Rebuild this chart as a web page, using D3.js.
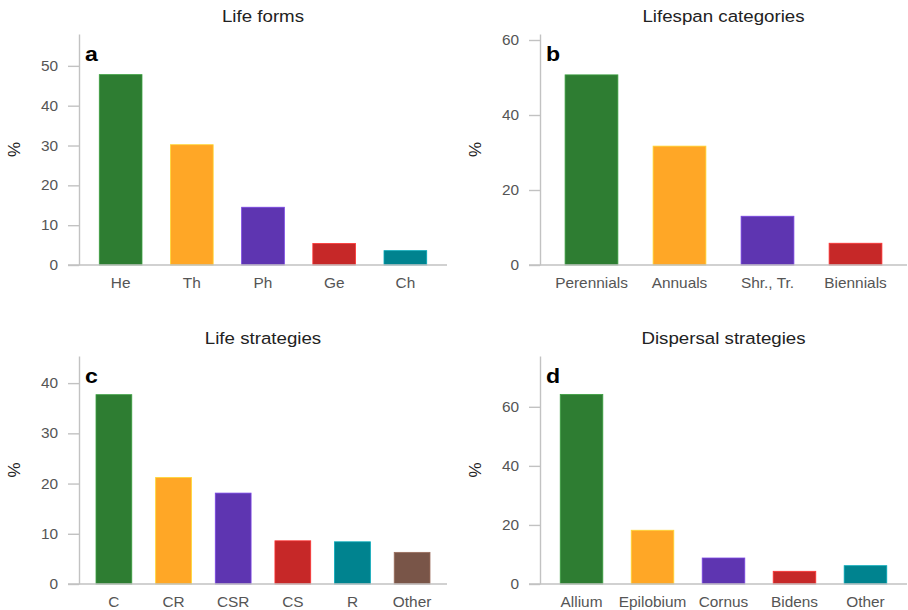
<!DOCTYPE html>
<html>
<head>
<meta charset="utf-8">
<script src="https://cdn.jsdelivr.net/npm/d3@7"></script>
<style>
  body { margin: 0; background: #fff; }
  svg { display: block; font-family: "Liberation Sans", Arial, sans-serif; }
</style>
</head>
<body>
<div class="chart-container"></div>
<script>
// values (percent of species)
const lifeFormCats = ['He', 'Th', 'Ph', 'Ge', 'Ch'];
const lifeFormVals = [47.8, 30.2, 14.5, 5.4, 3.6];
const lifeFormTicks = [0, 10, 20, 30, 40, 50];

const lifespanCats = ['Perennials', 'Annuals', 'Shr., Tr.', 'Biennials'];
const lifespanVals = [50.7, 31.7, 13.0, 5.8];
const lifespanTicks = [0, 20, 40, 60];

const strategyCats = ['C', 'CR', 'CSR', 'CS', 'R', 'Other'];
const strategyVals = [37.7, 21.2, 18.1, 8.6, 8.4, 6.3];
const strategyTicks = [0, 10, 20, 30, 40];

const dispersalCats = ['Allium', 'Epilobium', 'Cornus', 'Bidens', 'Other'];
const dispersalVals = [64.2, 18.2, 8.8, 4.3, 6.2];
const dispersalTicks = [0, 20, 40, 60];

// top of each y axis (a, b, c, d)
const yMaxes = [58, 61.6, 45.4, 77.2];

const colors = ['#2e7d32', '#ffa726', '#5e35b1', '#c62828', '#00838f', '#795548'];

// text in the reference is a bit wider than plain Arial
const sx = 1.1;

const svg = d3.select('.chart-container')
  .append('svg')
  .attr('width', 908)
  .attr('height', 610);

// draw one bar panel
function drawPanel(p) {
  const g = svg.append('g').attr('class', 'panel');

  const x = d3.scaleBand()
    .domain(p.cats)
    .range([p.x0, p.x1])
    .paddingInner(0.4)
    .paddingOuter(0.285);

  const y = d3.scaleLinear()
    .domain([0, p.yMax])
    .range([p.yBase, p.yTop]);

  // bars
  g.selectAll('.bar')
    .data(p.cats)
    .join('rect')
    .attr('class', 'bar')
    .attr('x', d => x(d))
    .attr('width', x.bandwidth())
    .attr('y', (d, i) => y(p.vals[i]))
    .attr('height', (d, i) => p.yBase - y(p.vals[i]))
    .style('fill', (d, i) => colors[i])
    .style('stroke', (d, i) => d3.color(colors[i]).brighter(0.7))
    .style('stroke-width', 0.8);

  // y axis
  const yAxis = d3.axisLeft(y)
    .tickValues(p.ticks)
    .tickSize(11)
    .tickSizeOuter(0)
    .tickPadding(10);

  const yAxisDraw = g.append('g')
    .attr('class', 'y axis')
    .attr('transform', `translate(${p.x0},0)`)
    .call(yAxis);

  yAxisDraw.selectAll('path, line')
    .attr('stroke', '#c2c2c2')
    .attr('stroke-width', 1.4);

  yAxisDraw.selectAll('text')
    .attr('x', null)
    .attr('transform', `translate(-21,0) scale(${sx},1)`)
    .attr('fill', '#555')
    .style('font-size', '14px');

  // x axis (labels only, baseline drawn below)
  const xAxis = d3.axisBottom(x)
    .tickSize(0)
    .tickSizeOuter(0)
    .tickPadding(0);

  const xAxisDraw = g.append('g')
    .attr('class', 'x axis')
    .attr('transform', `translate(0,${p.yBase})`)
    .call(xAxis);

  xAxisDraw.select('.domain').remove();
  xAxisDraw.selectAll('text')
    .attr('y', 23)
    .attr('dy', null)
    .attr('x', 0)
    .attr('transform', `scale(${sx},1)`)
    .attr('fill', '#555')
    .style('font-size', '14px');

  g.append('line')
    .attr('x1', p.x0 - 11)
    .attr('x2', p.x1)
    .attr('y1', p.yBase)
    .attr('y2', p.yBase)
    .attr('stroke', '#c2c2c2')
    .attr('stroke-width', 1.4);

  // title
  g.append('text')
    .attr('transform', `translate(${(p.x0 + p.x1) / 2},${p.yTop - 12}) scale(${sx},1)`)
    .attr('text-anchor', 'middle')
    .attr('fill', '#222')
    .style('font-size', '17px')
    .text(p.title);

  // panel letter
  g.append('text')
    .attr('transform', `translate(${p.x0 + 6},${p.yTop + 27}) scale(${sx},1)`)
    .attr('fill', '#000')
    .style('font-size', '21px')
    .style('font-weight', 'bold')
    .text(p.letter);

  // y label
  g.append('text')
    .attr('transform', `translate(${p.x0 - 59},${(p.yTop + p.yBase) / 2}) rotate(-90)`)
    .attr('text-anchor', 'middle')
    .attr('fill', '#222')
    .style('font-size', '17px')
    .text('%');
}

const leftCol = {x0: 79, x1: 447};
const rightCol = {x0: 540, x1: 907};
const topRow = {yTop: 34, yBase: 265};
const bottomRow = {yTop: 356, yBase: 584};

drawPanel({...leftCol, ...topRow, title: 'Life forms', letter: 'a', yMax: yMaxes[0],
  cats: lifeFormCats, vals: lifeFormVals, ticks: lifeFormTicks});
drawPanel({...rightCol, ...topRow, title: 'Lifespan categories', letter: 'b', yMax: yMaxes[1],
  cats: lifespanCats, vals: lifespanVals, ticks: lifespanTicks});
drawPanel({...leftCol, ...bottomRow, title: 'Life strategies', letter: 'c', yMax: yMaxes[2],
  cats: strategyCats, vals: strategyVals, ticks: strategyTicks});
drawPanel({...rightCol, ...bottomRow, title: 'Dispersal strategies', letter: 'd', yMax: yMaxes[3],
  cats: dispersalCats, vals: dispersalVals, ticks: dispersalTicks});
</script>
</body>
</html>
